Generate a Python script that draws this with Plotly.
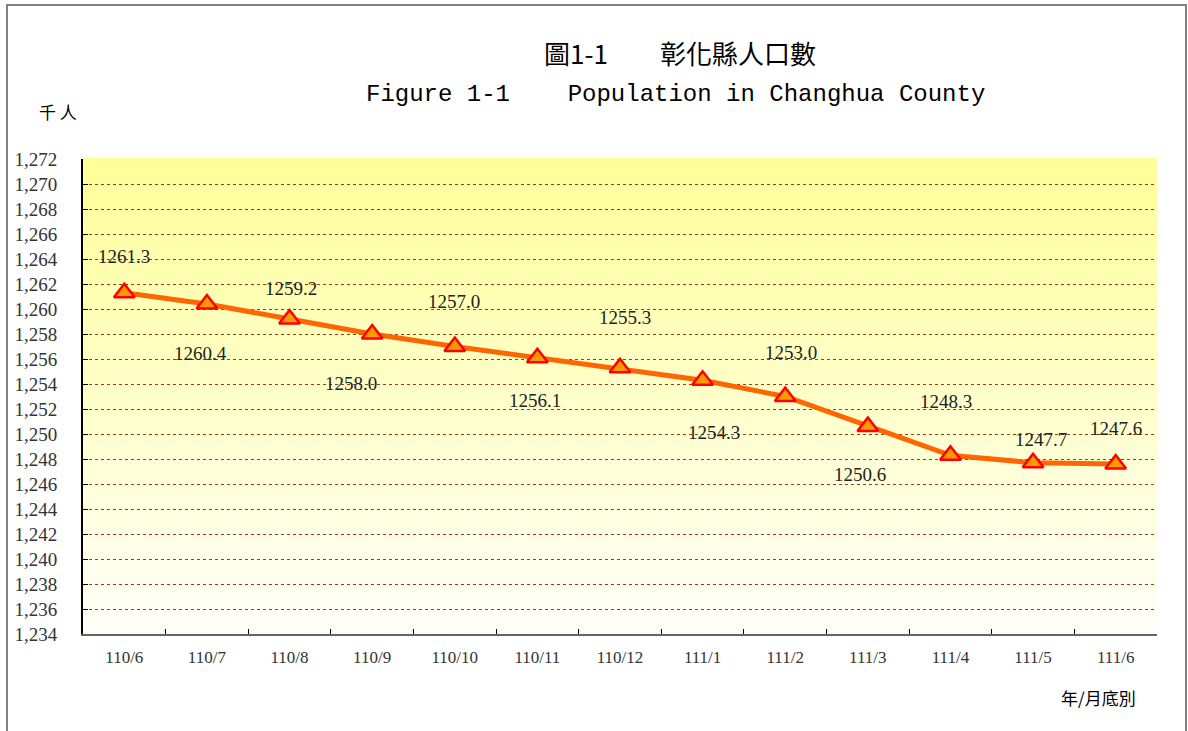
import plotly.graph_objects as go

categories = ["110/6", "110/7", "110/8", "110/9", "110/10", "110/11", "110/12",
              "111/1", "111/2", "111/3", "111/4", "111/5", "111/6"]
population = [1261.3, 1260.4, 1259.2, 1258.0, 1257.0, 1256.1, 1255.3,
              1254.3, 1253.0, 1250.6, 1248.3, 1247.7, 1247.6]
y_ticks = list(range(1234, 1273, 2))
y_tick_labels = [f"{v:,}" for v in y_ticks]

# label offsets (pixels) for data labels: (xshift, yshift)
label_offsets = [(0, 36), (-6, -49), (1, 31), (-21, -49), (-1, 45), (-2, -43),
                 (5, 50), (11, -52), (6, 44), (-8, -48), (-4, 54), (8, 23), (0, 36)]

Y_MIN, Y_MAX = 1234, 1272
W, H = 1188, 731
L, R, T, B = 83, 31, 159, 97
pw, ph = W - L - R, H - T - B

fig = go.Figure()

fig.add_trace(go.Scatter(
    x=categories, y=population, mode="lines+markers",
    line=dict(color="#FF6600", width=5),
    marker=dict(symbol="triangle-up", size=18, color="#FF9900",
                line=dict(color="#FF0000", width=2.5)),
    showlegend=False, cliponaxis=False))

for c, v, (dx, dy) in zip(categories, population, label_offsets):
    fig.add_annotation(x=c, y=v, text=f"{v:.1f}", showarrow=False,
                       xshift=dx, yshift=dy,
                       font=dict(family="Liberation Serif", size=19, color="#222222"))

# vertical gradient background (drawn below gridlines)
top_rgb = (255, 255, 153)
bot_rgb = (255, 255, 250)
n_steps = 120
for i in range(n_steps):
    f0 = i / n_steps
    f1 = (i + 1) / n_steps
    fm = (f0 + f1) / 2
    col = tuple(round(b + (t - b) * fm) for t, b in zip(top_rgb, bot_rgb))
    fig.add_shape(type="rect", xref="paper", yref="paper", x0=0, x1=1,
                  y0=f0, y1=f1 + 0.002, line=dict(width=0),
                  fillcolor=f"rgb{col}", layer="below")


def px_x(p):
    return (p - L) / pw


def px_y(p):
    return (H - B - p) / ph


common = dict(xref="paper", yref="paper", showarrow=False, xanchor="center", yanchor="middle")
fig.add_annotation(x=px_x(680), y=px_y(52), text="圖1-1　　彰化縣人口數",
                   font=dict(family="Noto Sans CJK TC", size=26, color="#000000"), **common)
fig.add_annotation(x=px_x(675), y=px_y(95),
                   text="Figure 1-1    Population in Changhua County",
                   font=dict(family="Liberation Mono", size=24, color="#000000"), **common)
fig.add_annotation(x=px_x(58), y=px_y(112), text="千 人",
                   font=dict(family="Noto Sans CJK TC", size=17, color="#000000"), **common)
fig.add_annotation(x=px_x(1098), y=px_y(697), text="年/月底別",
                   font=dict(family="Noto Sans CJK TC", size=17, color="#000000"), **common)

# outer frame
fig.add_shape(type="rect", xref="paper", yref="paper",
              x0=px_x(7), x1=px_x(1186), y0=px_y(760), y1=px_y(5),
              line=dict(color="#808080", width=2), fillcolor="rgba(0,0,0,0)", layer="above")

fig.update_layout(
    width=W, height=H,
    margin=dict(l=L, r=R, t=T, b=B, autoexpand=False),
    paper_bgcolor="white", plot_bgcolor="white",
    xaxis=dict(type="category", range=[-0.5, len(categories) - 0.5],
               tickson="boundaries", ticks="inside", ticklen=5, tickcolor="#000000",
               showline=True, linecolor="#666666", linewidth=2, showgrid=False,
               tickfont=dict(family="Liberation Serif", size=17, color="#333333"),
               ticklabelstandoff=7),
    yaxis=dict(range=[Y_MIN, Y_MAX], tickvals=y_ticks, ticktext=y_tick_labels,
               ticks="inside", ticklen=5, tickcolor="#000000",
               showline=True, linecolor="#000000", linewidth=2,
               showgrid=True, gridcolor="#A03A12", griddash="dot", gridwidth=1,
               tickfont=dict(family="Liberation Serif", size=19, color="#333333"),
               ticklabelstandoff=20, zeroline=False),
)

fig.write_html("out.html", config={"displayModeBar": False},
               post_script="document.body.style.margin='0';document.body.style.overflow='hidden';")
